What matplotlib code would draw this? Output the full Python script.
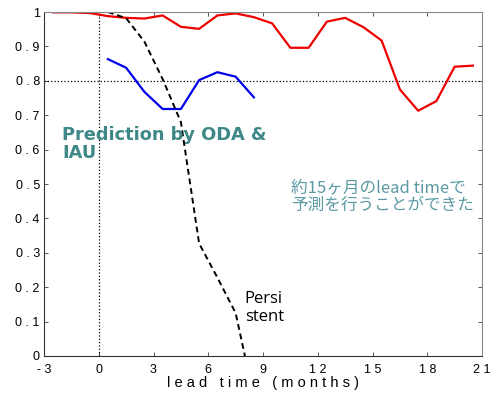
import matplotlib
matplotlib.use("Agg")
import matplotlib.pyplot as plt

# lead time (months), half-month centred points
red_x = [-2.5, -1.5, -0.5, 0.5, 1.5, 2.5, 3.5, 4.5, 5.5, 6.5, 7.5, 8.5,
         9.5, 10.5, 11.5, 12.5, 13.5, 14.5, 15.5, 16.5, 17.5, 18.5, 19.5, 20.5]
red_y = [0.999, 0.999, 0.997, 0.988, 0.983, 0.981, 0.990, 0.957, 0.951, 0.990, 0.996, 0.985,
         0.967, 0.896, 0.896, 0.972, 0.983, 0.956, 0.917, 0.775, 0.713, 0.741, 0.841, 0.844]

blue_x = [0.5, 1.5, 2.5, 3.5, 4.5, 5.5, 6.5, 7.5, 8.5]
blue_y = [0.863, 0.838, 0.768, 0.718, 0.718, 0.802, 0.825, 0.812, 0.752]

pers_x = [0.5, 1.5, 2.5, 3.5, 4.5, 5.5, 6.5, 7.5, 8.5]
pers_y = [1.0, 0.982, 0.914, 0.805, 0.68, 0.327, 0.228, 0.125, -0.12]

xticks = [-3, 0, 3, 6, 9, 12, 15, 18, 21]
yticks = [0, 0.1, 0.2, 0.3, 0.4, 0.5, 0.6, 0.7, 0.8, 0.9, 1]


def spaced(s):
    return " ".join(s)


fig = plt.figure(figsize=(4.96, 3.94), dpi=100)
ax = fig.add_axes([44 / 496, 1 - 356 / 394, 438 / 496, 344 / 394])

ax.axvline(0, color="black", lw=0.9, ls=":")
ax.axhline(0.8, color="black", lw=0.9, ls=":")

ax.plot(red_x, red_y, color="#ee0000", lw=1.6)
ax.plot(blue_x, blue_y, color="#0000ee", lw=1.6)
ax.plot(pers_x, pers_y, color="black", lw=1.4, ls=(0, (3, 2)))

ax.set_xlim(-3, 21)
ax.set_ylim(0, 1)
ax.set_xticks(xticks)
ax.set_yticks(yticks)
ax.set_xticklabels([spaced(str(t)) for t in xticks],
                   family="Liberation Sans", fontsize=9)
ax.set_yticklabels([spaced("%g" % t) for t in yticks],
                   family="Liberation Sans", fontsize=9)
ax.tick_params(direction="in", length=3, top=True, right=True, width=0.7,
               color="#555555")
ax.tick_params(axis="x", pad=6)
ax.tick_params(axis="y", pad=3)
for side in ["top", "right"]:
    ax.spines[side].set_color("#888888")
for side in ["left", "bottom"]:
    ax.spines[side].set_color("#333333")
for sp in ax.spines.values():
    sp.set_linewidth(0.8)

ax.set_xlabel("l e a d   t i m e   ( m o n t h s )", family="Liberation Sans",
              fontsize=10.5, labelpad=0)

ax.text(-2.0, 0.668, "Prediction by ODA &\nIAU", color="#3f8888",
        fontsize=12.8, fontweight="bold", family="DejaVu Sans",
        va="top", ha="left", linespacing=1.0)
ax.text(10.55, 0.515, "約15ヶ月のlead timeで\n予測を行うことができた",
        color="#5b9aa3", fontsize=12, family=["Noto Sans CJK JP", "DejaVu Sans"],
        va="top", ha="left", linespacing=1.05)
ax.text(8.0, 0.188, "Persi\nstent", color="black", fontsize=12,
        family="Open Sans", va="top", ha="left", linespacing=1.1)

fig.savefig("out.png", dpi=100)
